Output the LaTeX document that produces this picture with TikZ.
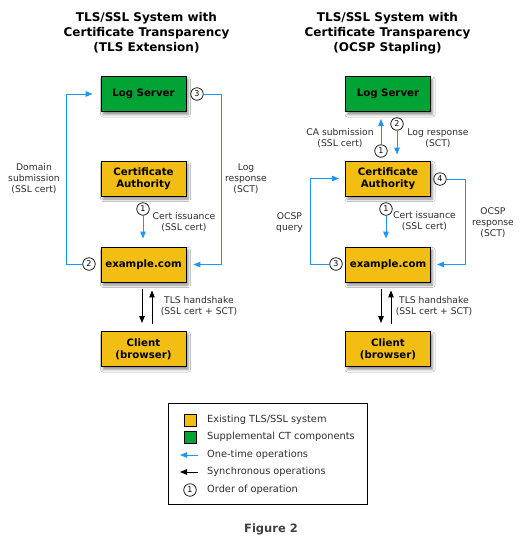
\documentclass[tikz,border=0pt]{standalone}
\usepackage{fontspec}
\setmainfont{DejaVu Sans}
\usetikzlibrary{arrows.meta,shadows.blur}
\definecolor{ctyellow}{RGB}{242,190,20}
\definecolor{ctgreen}{RGB}{0,163,52}
\definecolor{ctblue}{RGB}{30,150,255}
\definecolor{lblgray}{RGB}{45,45,45}
\tikzset{
  box/.style={draw=black, line width=0.9pt, minimum width=85pt, minimum height=35pt, inner sep=0pt, align=center,
    font=\fontsize{10.2}{12}\selectfont\bfseries,
    blur shadow={shadow xshift=2pt, shadow yshift=-3pt, shadow blur radius=2.5pt, shadow opacity=45}},
  ybox/.style={box, fill=ctyellow},
  gbox/.style={box, fill=ctgreen},
  num/.style={circle, draw=black, fill=white, line width=0.7pt, minimum size=12.5pt, inner sep=0pt, font=\fontsize{8}{8}\selectfont},
  lbl/.style={align=center, text=lblgray, font=\fontsize{9.2}{11}\selectfont, inner sep=0pt},
  legtxt/.style={anchor=west, text=lblgray, font=\fontsize{9.8}{11}\selectfont, inner sep=0pt},
  oneway/.style={draw=ctblue, line width=1pt, -{Triangle[length=7pt,width=5.5pt]}},
  sync/.style={draw=black, line width=1pt, -{Triangle[length=7pt,width=5.5pt]}},
  ttl/.style={align=center, font=\fontsize{12}{15}\selectfont\bfseries, inner sep=0pt},
}
\begin{document}
\begin{tikzpicture}[x=1pt,y=-1pt]
\useasboundingbox[fill=white] (0,0) rectangle (523,547);

% ---------- Left diagram ----------
\node[ttl] (tl) at (146.5,33) {TLS/SSL System with\\Certificate Transparency\\(TLS Extension)};
\node[gbox] (logL) at (143.5,94) {Log Server};
\node[ybox] (caL) at (143.5,178.5) {Certificate\\Authority};
\node[ybox] (exL) at (143.5,264.5) {example.com};
\node[ybox] (clL) at (143.5,349) {Client\\(browser)};

\coordinate (lxL) at (66,0);
\coordinate (rxL) at (221,0);
\node[num] (n2L) at (89,264) {2};
\node[num] (n3L) at (197,94) {3};
\node[num] (n1L) at (143,209) {1};

\draw[oneway] (n2L.west) -- (n2L.west -| lxL) |- ([xshift=-8pt]logL.west);
\draw[oneway] (n3L.east) -- (n3L.east -| rxL) |- ([xshift=7pt]exL.east);
\draw[oneway] (n1L.south) -- ([yshift=8pt]exL.north -| n1L.south);

\draw[sync] ([xshift=-1.5pt,yshift=-7pt]exL.south) -- ([xshift=-1.5pt,yshift=8pt]clL.north);
\draw[sync] ([xshift=8.5pt,yshift=7pt]clL.north) -- ([xshift=8.5pt,yshift=-8pt]exL.south);

\node[lbl] (dsL) at (34,179) {Domain\\submission\\(SSL cert)};
\node[lbl] (lrL) at (246,179) {Log\\response\\(SCT)};
\node[lbl] (ciL) at (184,222.5) {Cert issuance\\(SSL cert)};
\node[lbl] (thL) at (199,306.5) {TLS handshake\\(SSL cert + SCT)};

% ---------- Right diagram ----------
\node[ttl] (tr) at (387.5,33) {TLS/SSL System with\\Certificate Transparency\\(OCSP Stapling)};
\node[gbox] (logR) at (388,94) {Log Server};
\node[ybox] (caR) at (388,178.5) {Certificate\\Authority};
\node[ybox] (exR) at (388,264.5) {example.com};
\node[ybox] (clR) at (388,349) {Client\\(browser)};

\coordinate (lxR) at (310,0);
\coordinate (rxR) at (465,0);
\node[num] (n1aR) at (381,151) {1};
\node[num] (n2R) at (397,124) {2};
\node[num] (n4R) at (440,179) {4};
\node[num] (n3R) at (336,264) {3};
\node[num] (n1bR) at (386,209) {1};

\draw[oneway] (n1aR.north) -- ([yshift=-7pt]logR.south -| n1aR.north);
\draw[oneway] (n2R.south) -- ([yshift=6pt]caR.north -| n2R.south);
\draw[oneway] (n4R.east) -- (n4R.east -| rxR) |- ([xshift=6pt]exR.east);
\draw[oneway] (n3R.west) -- (n3R.west -| lxR) |- ([xshift=-6pt]caR.west);
\draw[oneway] (n1bR.south) -- ([yshift=8pt]exR.north -| n1bR.south);

\draw[sync] ([xshift=-7pt,yshift=-7pt]exR.south) -- ([xshift=-7pt,yshift=8pt]clR.north);
\draw[sync] ([xshift=3pt,yshift=7pt]clR.north) -- ([xshift=3pt,yshift=-8pt]exR.south);

\node[lbl] (csR) at (340,138.5) {CA submission\\(SSL cert)};
\node[lbl] (lrR) at (438,138.5) {Log response\\(SCT)};
\node[lbl] (oqR) at (289.5,222.5) {OCSP\\query};
\node[lbl] (orR) at (493,222.5) {OCSP\\response\\(SCT)};
\node[lbl] (ciR) at (424.5,221.5) {Cert issuance\\(SSL cert)};
\node[lbl] (thR) at (434,306.5) {TLS handshake\\(SSL cert + SCT)};

% ---------- Legend ----------
\node[draw=black, line width=0.8pt, minimum width=199pt, minimum height=101pt, inner sep=0pt] (leg) at (267.5,453.5) {};
\node[draw=black, line width=0.8pt, fill=ctyellow, minimum size=12pt, inner sep=0pt] (sqY) at (190,420) {};
\node[draw=black, line width=0.8pt, fill=ctgreen, minimum size=12pt, inner sep=0pt] (sqG) at (190,437) {};
\coordinate (baS) at (198,455);
\coordinate (baE) at (180,455);
\draw[oneway] (baS) -- (baE);
\coordinate (kaS) at (198,472);
\coordinate (kaE) at (180,472);
\draw[sync] (kaS) -- (kaE);
\node[num] (n1Leg) at (190,490) {1};
\node[legtxt] (t1) at (207,420) {Existing TLS/SSL system};
\node[legtxt] (t2) at (207,437) {Supplemental CT components};
\node[legtxt] (t3) at (207,455) {One-time operations};
\node[legtxt] (t4) at (207,472) {Synchronous operations};
\node[legtxt] (t5) at (207,490) {Order of operation};

\node[font=\fontsize{11.5}{13}\selectfont\bfseries, text=black!75, inner sep=0pt] (fig) at (271,529) {Figure 2};
\end{tikzpicture}
\end{document}
